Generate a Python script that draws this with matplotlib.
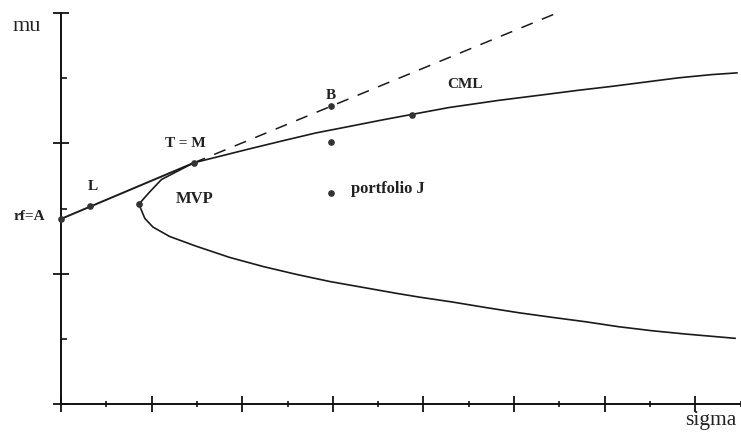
#!/usr/bin/env python3

import matplotlib.pyplot as plt
from matplotlib.ticker import MultipleLocator

# efficient frontier: lower branch (right end -> MVP), then upper branch
front_sigma = [14.88, 13.78, 13.05, 12.31, 11.58, 10.84, 10.11, 9.38, 8.64, 7.91, 7.39,
               6.66, 5.93, 5.19, 4.46, 3.72, 2.99, 2.40, 2.03, 1.85, 1.72,
               1.96, 2.22, 2.93, 4.16, 4.90, 5.63, 6.37, 7.10, 7.74, 8.57, 9.67,
               10.70, 11.43, 12.17, 12.90, 13.63, 14.37, 14.92]
front_mu = [1.008, 1.074, 1.124, 1.186, 1.262, 1.330, 1.400, 1.480, 1.565, 1.640, 1.700,
            1.790, 1.880, 1.990, 2.110, 2.250, 2.420, 2.570, 2.715, 2.848, 3.067,
            3.256, 3.446, 3.701, 3.915, 4.040, 4.160, 4.260, 4.360, 4.443, 4.550, 4.660,
            4.750, 4.815, 4.875, 4.940, 5.005, 5.055, 5.081]

# capital market line: solid from rf to T, dashed beyond
cml_sigma = [0.0, 2.93]
cml_mu = [2.84, 3.70]
cml_ext_sigma = [2.93, 10.95]
cml_ext_mu = [3.70, 6.0]

# marked portfolios
pts_sigma = [0.0, 0.65, 1.72, 2.93, 5.95, 5.95, 5.95, 7.74]
pts_mu = [2.84, 3.04, 3.07, 3.70, 4.57, 4.02, 3.24, 4.44]

labels = ['rf=A', 'L', 'T = M', 'MVP', 'B', 'portfolio J', 'CML']
label_sigma = [-0.70, 0.70, 2.75, 2.95, 5.95, 6.41, 8.92]
label_mu = [2.88, 3.33, 4.00, 3.14, 4.74, 3.30, 4.91]
label_ha = ['center', 'center', 'center', 'center', 'center', 'left', 'center']

plt.rcParams['font.family'] = ['Liberation Serif', 'DejaVu Serif']

fig = plt.figure(figsize=(7.41, 4.34), dpi=100)
ax = fig.add_axes([61 / 741, 30 / 434, 679.5 / 741, 391 / 434])

ax.plot(front_sigma, front_mu, color='#1a1a1a', lw=1.2, clip_on=False)
ax.plot(cml_sigma, cml_mu, color='#1a1a1a', lw=1.4, clip_on=False)
ax.plot(cml_ext_sigma, cml_ext_mu, color='#1a1a1a', lw=1.1, dashes=[8, 6.5], clip_on=False)
ax.plot(pts_sigma, pts_mu, 'o', color='#333333', ms=3.8, clip_on=False, zorder=5)

for t, x, y, ha in zip(labels, label_sigma, label_mu, label_ha):
    fs = 12 if t in ('MVP', 'portfolio J') else 11
    ax.text(x, y, t, ha=ha, va='center', fontsize=fs, fontweight='bold', color='#222222')

ax.text(-0.75, 5.80, 'mu', ha='center', va='center', fontsize=16, color='#222222')
ax.text(14.34, -0.25, 'sigma', ha='center', va='center', fontsize=15.5, color='#222222')

ax.set_xlim(0, 15)
ax.set_ylim(0, 6)
for s in ['top', 'right']:
    ax.spines[s].set_visible(False)
for s in ['left', 'bottom']:
    ax.spines[s].set_linewidth(1.4)
    ax.spines[s].set_color('#111111')

ax.xaxis.set_major_locator(MultipleLocator(2))
ax.xaxis.set_minor_locator(MultipleLocator(1))
ax.yaxis.set_major_locator(MultipleLocator(2))
ax.yaxis.set_minor_locator(MultipleLocator(1))
ax.tick_params(axis='both', which='major', direction='inout', length=12, width=1.3,
               labelbottom=False, labelleft=False, color='#111111')
ax.tick_params(axis='x', which='minor', direction='inout', length=5, width=1.2, color='#111111')
ax.tick_params(axis='y', which='minor', direction='in', length=4, width=1.2, color='#111111')
for t in ax.xaxis.get_major_ticks() + ax.yaxis.get_major_ticks():
    t.tick1line.set_clip_on(False)

plt.savefig('out.png', dpi=100)
plt.close()
